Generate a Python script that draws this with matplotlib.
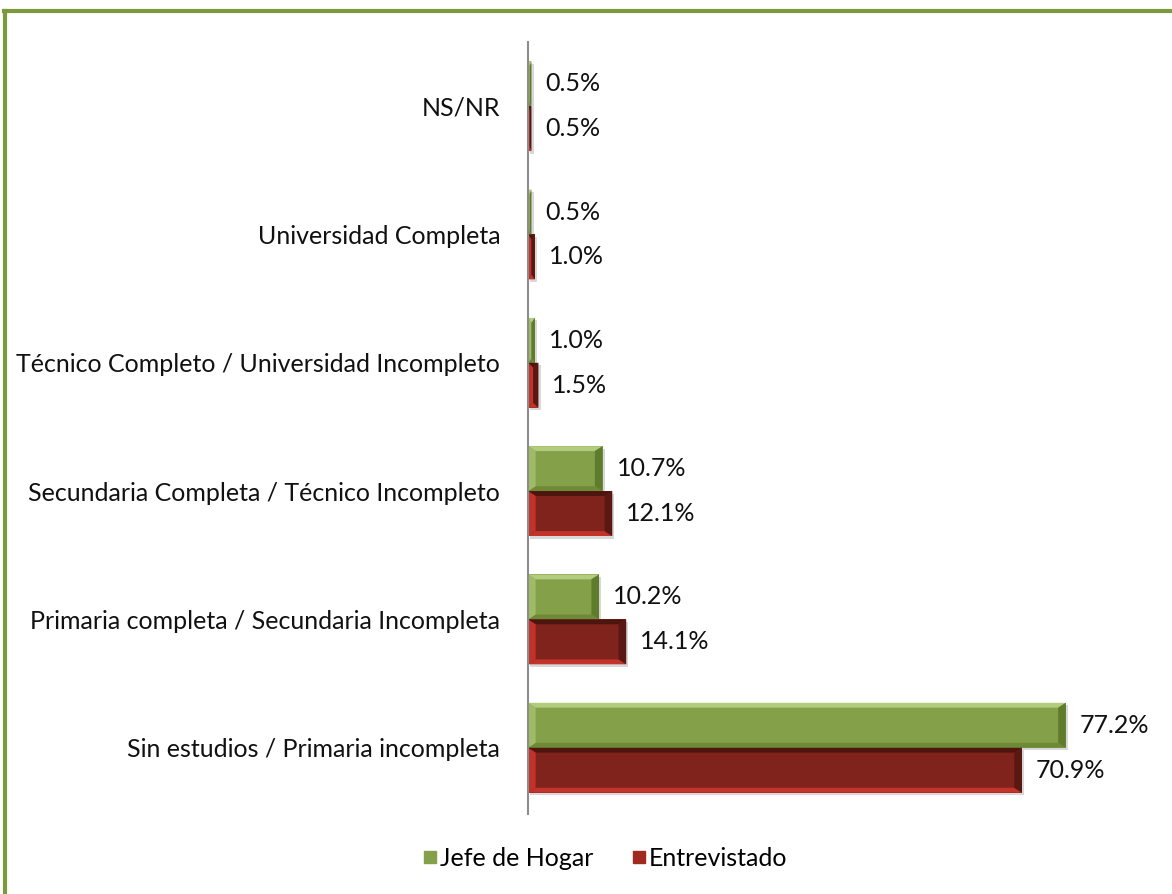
import matplotlib
matplotlib.use("Agg")
import matplotlib.pyplot as plt
from matplotlib.patches import Polygon, Rectangle
from matplotlib.lines import Line2D

categories = [
    "Sin estudios / Primaria incompleta",
    "Primaria completa / Secundaria Incompleta",
    "Secundaria Completa / Técnico Incompleto",
    "Técnico Completo / Universidad Incompleto",
    "Universidad Completa",
    "NS/NR",
]
jefe = [77.2, 10.2, 10.7, 1.0, 0.5, 0.5]
entrevistado = [70.9, 14.1, 12.1, 1.5, 1.0, 0.5]
series_names = ["Jefe de Hogar", "Entrevistado"]

plt.rcParams['font.family'] = ['Lato', 'DejaVu Sans']

fig = plt.figure(figsize=(11.72, 8.94), dpi=100)
ax = fig.add_axes([0.4505, 0.089, 0.535, 0.864])

bar_h = 0.35
xmax = 90
ax.set_xlim(0, xmax)
ax.set_ylim(-0.52, len(categories) - 0.5)

green = dict(face="#84a14a", top="#b3cb7c", bottom="#6d8a37", left="#a0bb66", right="#5f7b2c")
red = dict(face="#80231c", top="#4e150f", bottom="#c2342a", left="#c0322a", right="#5a1812")

bx = 1.1
by = 0.038

def bevel_bar(y0, w, h, c):
    x0 = 0
    # soft shadow
    ax.add_patch(Rectangle((x0 + 0.3, y0 - 0.02), w, h, facecolor="#d8d8d8", edgecolor="none", zorder=1))
    ax.add_patch(Rectangle((x0, y0), w, h, facecolor=c["face"], edgecolor="none", zorder=2))
    b = min(bx, w / 2)
    ax.add_patch(Polygon([(x0, y0), (w, y0), (w - b, y0 + by), (x0 + b, y0 + by)],
                         closed=True, facecolor=c["bottom"], edgecolor="none", zorder=3))
    ax.add_patch(Polygon([(x0, y0 + h), (w, y0 + h), (w - b, y0 + h - by), (x0 + b, y0 + h - by)],
                         closed=True, facecolor=c["top"], edgecolor="none", zorder=3))
    ax.add_patch(Polygon([(x0, y0), (x0 + b, y0 + by), (x0 + b, y0 + h - by), (x0, y0 + h)],
                         closed=True, facecolor=c["left"], edgecolor="none", zorder=3))
    ax.add_patch(Polygon([(w, y0), (w - b, y0 + by), (w - b, y0 + h - by), (w, y0 + h)],
                         closed=True, facecolor=c["right"], edgecolor="none", zorder=3))

for i, (j, e) in enumerate(zip(jefe, entrevistado)):
    bevel_bar(i, j, bar_h, green)
    bevel_bar(i - bar_h, e, bar_h, red)
    ax.text(j + 2.0, i + bar_h / 2, f"{j:.1f}%", va="center", ha="left", fontsize=18, color="#111111")
    ax.text(e + 2.0, i - bar_h / 2, f"{e:.1f}%", va="center", ha="left", fontsize=18, color="#111111")

ax.set_yticks(range(len(categories)))
ax.set_yticklabels(categories, fontsize=18, color="#111111")
ax.tick_params(axis="y", length=0, pad=20)
ax.set_xticks([])
for s in ["top", "right", "bottom"]:
    ax.spines[s].set_visible(False)
ax.spines["left"].set_color("#8c8c8c")
ax.spines["left"].set_linewidth(1.5)
ax.spines["left"].set_zorder(5)

handles = [Line2D([], [], marker="s", linestyle="none", markersize=9, markerfacecolor=green["face"], markeredgecolor=green["face"]),
           Line2D([], [], marker="s", linestyle="none", markersize=9, markerfacecolor="#a02a20", markeredgecolor="#a02a20")]
fig.legend(handles, series_names, loc="center", bbox_to_anchor=(0.515, 0.04), ncol=2, frameon=False,
           fontsize=18, handletextpad=0.0, columnspacing=1.4, handlelength=0.8)

fig.add_artist(Line2D([0.0045, 0.0045], [0, 0.988], transform=fig.transFigure, color="#7b9a3c", linewidth=3))
fig.add_artist(Line2D([0.0035, 1.0], [0.988, 0.988], transform=fig.transFigure, color="#7b9a3c", linewidth=3))

fig.savefig("out.png", dpi=100, facecolor="white")
